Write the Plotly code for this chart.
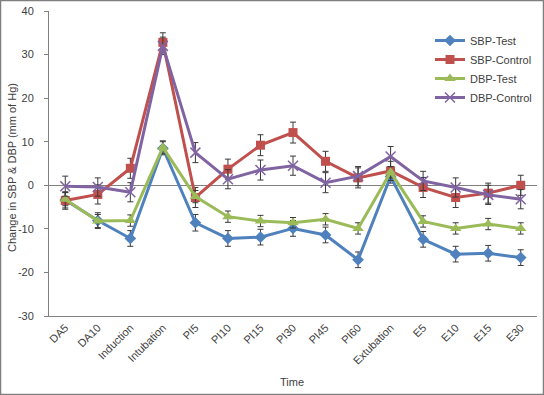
import plotly.graph_objects as go

categories = ["DA5", "DA10", "Induction", "Intubation", "PI5", "PI10", "PI15", "PI30",
              "PI45", "PI60", "Extubation", "E5", "E10", "E15", "E30"]

y_ticks = [-30, -20, -10, 0, 10, 20, 30, 40]
y_tick_labels = ["-30", "-20", "-10", "0", "10", "20", "30", "40"]

sbp_test = [-3.4, -8.1, -12.2, 8.5, -8.6, -12.2, -11.9, -9.9, -11.4, -17.1, 2.0, -12.4, -15.8, -15.6, -16.6]
sbp_test_err = [1.8, 1.8, 1.8, 1.5, 1.9, 1.8, 1.8, 1.8, 1.8, 1.8, 1.5, 1.8, 1.8, 1.8, 1.8]

sbp_control = [-3.5, -2.1, 3.9, 32.8, -2.8, 3.7, 9.2, 12.1, 5.5, 1.7, 3.3, -0.5, -2.8, -1.8, 0.0]
sbp_control_err = [2.0, 2.2, 2.3, 2.2, 2.3, 2.3, 2.4, 2.4, 2.3, 2.3, 2.2, 2.3, 2.3, 2.3, 2.3]

dbp_test = [-3.2, -8.2, -8.1, 8.7, -2.6, -7.2, -8.2, -8.6, -7.8, -9.9, 3.0, -8.3, -9.9, -8.9, -9.9]
dbp_test_err = [1.5, 1.5, 1.3, 1.5, 1.4, 1.3, 1.3, 1.2, 1.3, 1.3, 1.3, 1.3, 1.3, 1.3, 1.3]

dbp_control = [-0.2, -0.4, -1.6, 32.0, 7.5, 1.4, 3.5, 4.5, 0.6, 2.1, 6.6, 1.0, -0.5, -2.2, -3.2]
dbp_control_err = [2.3, 2.1, 2.2, 2.0, 2.3, 2.2, 2.3, 2.2, 2.3, 2.2, 2.3, 2.2, 2.2, 2.2, 2.2]

series = [
    ("SBP-Test", sbp_test, sbp_test_err, "#4F81BD", "diamond", 9),
    ("SBP-Control", sbp_control, sbp_control_err, "#C0504D", "square", 9),
    ("DBP-Test", dbp_test, dbp_test_err, "#9BBB59", "triangle-up", 10),
    ("DBP-Control", dbp_control, dbp_control_err, "#8064A2", "x-thin", 10),
]

fig = go.Figure()
for name, vals, errs, color, sym, size in series:
    marker = dict(symbol=sym, size=size, color=color)
    if sym == "x-thin":
        marker["line"] = dict(color=color, width=1.5)
    fig.add_trace(go.Scatter(
        x=list(range(len(categories))), y=vals, name=name, mode="lines+markers",
        line=dict(color=color, width=3),
        marker=marker,
        error_y=dict(type="data", array=errs, visible=True, color="#3a3a3a",
                     thickness=1, width=3),
    ))

L, R, T, B = 49, 7, 11, 79
pw = 544 - L - R
ph = 395 - T - B

def px_x(p):
    return (p - L) / pw

def px_y(p):
    return (395 - B - p) / ph

fig.update_layout(
    width=544, height=395,
    margin=dict(l=L, r=R, t=T, b=B, autoexpand=False),
    paper_bgcolor="white", plot_bgcolor="white",
    font=dict(family="Liberation Sans, Arial, sans-serif", size=11, color="#404040"),
    showlegend=True,
    legend=dict(x=px_x(430), y=px_y(26), xanchor="left", yanchor="top",
                font=dict(size=11, color="#404040"), bgcolor="rgba(0,0,0,0)",
                tracegroupgap=0, itemwidth=30),
    xaxis=dict(
        tickmode="array", tickvals=list(range(len(categories))), ticktext=categories,
        range=[-0.5, len(categories) - 0.5], tickangle=-45,
        showline=True, linecolor="#808080", linewidth=1,
        ticks="", showgrid=False, zeroline=False,
        tickfont=dict(size=11, color="#404040"),
    ),
    yaxis=dict(
        range=[-30, 40], tickmode="array", tickvals=y_ticks, ticktext=y_tick_labels,
        showline=True, linecolor="#808080", linewidth=1,
        ticks="outside", ticklen=4, tickcolor="#808080", showgrid=False,
        ticklabelstandoff=8,
        zeroline=True, zerolinecolor="#808080", zerolinewidth=1,
        tickfont=dict(size=11, color="#404040"),
    ),
    annotations=[
        dict(text="Time", xref="paper", yref="paper", x=px_x(292), y=px_y(382),
             xanchor="center", yanchor="middle",
             showarrow=False, font=dict(size=11, color="#404040")),
        dict(text="Change in SBP & DBP (mm of Hg)", xref="paper", yref="paper",
             x=px_x(12), y=px_y(168), xanchor="center", yanchor="middle",
             textangle=-90, showarrow=False,
             font=dict(size=11, color="#404040")),
    ],
    shapes=[
        dict(type="rect", xref="paper", yref="paper",
             x0=px_x(0.5), x1=px_x(543.5), y0=px_y(394.5), y1=px_y(0.5),
             line=dict(color="#7f7f7f", width=1.5), layer="above"),
    ],
)

fig.write_html(
    "out.html",
    config={"displayModeBar": False},
    post_script="document.body.style.margin='0';document.body.style.padding='0';"
                "document.body.style.overflow='hidden';",
)
